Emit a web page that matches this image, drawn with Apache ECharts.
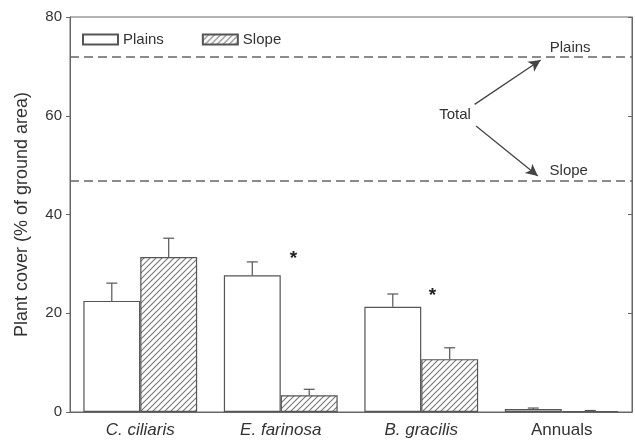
<!DOCTYPE html>
<html><head><meta charset="utf-8">
<script src="https://cdn.jsdelivr.net/npm/echarts@6/dist/echarts.min.js"></script>
<style>html,body{margin:0;padding:0;background:#fff}#c{width:635px;height:443px}</style>
</head><body><div id="c"></div>
<script>
const categories = ['C. ciliaris', 'E. farinosa', 'B. gracilis', 'Annuals'];
const italicCats = [true, true, true, false];
const plainsVals = [22.5, 27.7, 21.3, 0.6];
const plainsErr = [26.1, 30.4, 23.9, 0.8];
const slopeVals = [31.4, 3.4, 10.7, 0.2];
const slopeErr = [35.2, 4.6, 13.0, 0.3];
const totalPlains = 71.9;
const totalSlope = 46.8;
const yTicks = [0, 20, 40, 60, 80];
const stars = [[1.59, 31.8], [2.58, 24.3]];
const annoTexts = [['Total', 2.74, 60.1], ['Plains', 3.56, 73.8], ['Slope', 3.55, 48.8]];
const arrows = [[[2.88, 62.3], [3.35, 71.3]], [[2.89, 57.9], [3.33, 47.8]]];

function hatch() {
  const s = 6, c = document.createElement('canvas');
  c.width = s; c.height = s;
  const g = c.getContext('2d');
  g.fillStyle = '#fff'; g.fillRect(0, 0, s, s);
  g.strokeStyle = '#777'; g.lineWidth = 1.1;
  g.beginPath();
  g.moveTo(0, s); g.lineTo(s, 0);
  g.moveTo(-1, 1); g.lineTo(1, -1);
  g.moveTo(s - 1, s + 1); g.lineTo(s + 1, s - 1);
  g.stroke();
  return c;
}
const pattern = { image: hatch(), repeat: 'repeat' };
const lineCol = '#555';
const txt = '#333';
const font = 'Liberation Sans, Arial, sans-serif';

const chart = echarts.init(document.getElementById('c'));
const gap = 0.19;
function errItem(offsetSign) {
  return function (params, api) {
    const idx = api.value(0);
    const base = api.coord([idx, api.value(1)]);
    const top = api.coord([idx, api.value(2)]);
    const bw = api.size([1, 0])[0] * (1 - gap) / 2;
    const x = base[0] + offsetSign * bw / 2;
    const cap = 5.5;
    return {
      type: 'group', children: [
        { type: 'line', shape: { x1: x, y1: base[1], x2: x, y2: top[1] }, style: { stroke: lineCol, lineWidth: 1.2 } },
        { type: 'line', shape: { x1: x - cap, y1: top[1], x2: x + cap, y2: top[1] }, style: { stroke: lineCol, lineWidth: 1.2 } }
      ]
    };
  };
}

chart.setOption({
  animation: false,
  grid: { left: 70, right: 3, top: 17, bottom: 31, show: true, borderColor: '#666', borderWidth: 1 },
  legend: {
    left: 77, top: 27, itemWidth: 35, itemHeight: 10, itemGap: 38,
    textStyle: { fontFamily: font, fontSize: 15, color: txt },
    data: [{ name: 'Plains', icon: 'rect' }, { name: 'Slope', icon: 'rect' }]
  },
  xAxis: [{
    type: 'category', data: categories,
    axisLine: { lineStyle: { color: '#666' } }, axisTick: { show: false },
    axisLabel: {
      margin: 10, fontFamily: font, fontSize: 17, color: txt,
      formatter: function (v, i) { return italicCats[i] ? '{it|' + v + '}' : v; },
      rich: { it: { fontStyle: 'italic', fontFamily: font, fontSize: 17, color: txt } }
    }
  }, {
    type: 'value', min: 0, max: 4, show: false
  }],
  yAxis: [{
    type: 'value', min: 0, max: 80, interval: 20,
    name: 'Plant cover (% of ground area)', nameLocation: 'middle', nameGap: 39,
    nameTextStyle: { fontFamily: font, fontSize: 18, color: txt },
    axisLine: { show: true, lineStyle: { color: '#666' } },
    axisTick: { show: true, length: 4, lineStyle: { color: '#666' } },
    splitLine: { show: false },
    axisLabel: { fontFamily: font, fontSize: 15, color: txt, margin: 8,
      formatter: function (v) { return yTicks.indexOf(v) >= 0 ? String(v) : ''; } }
  }, {
    type: 'value', min: 0, max: 80, interval: 20, position: 'right',
    axisLine: { show: true, lineStyle: { color: '#666' } },
    axisTick: { show: true, inside: true, length: 4, lineStyle: { color: '#666' } },
    axisLabel: { show: false }, splitLine: { show: false }
  }],
  series: [
    {
      name: 'Plains', type: 'bar', data: plainsVals, barGap: '0%', barCategoryGap: (gap * 100) + '%',
      itemStyle: { color: '#fff', borderColor: lineCol, borderWidth: 1.2 },
      markLine: {
        silent: true, symbol: 'none', label: { show: false },
        lineStyle: { color: '#666', type: [9, 5], width: 1.5 },
        data: [{ yAxis: totalPlains }, { yAxis: totalSlope }]
      }
    },
    {
      name: 'Slope', type: 'bar', data: slopeVals,
      itemStyle: { color: pattern, borderColor: lineCol, borderWidth: 1.2 }
    },
    {
      type: 'custom', renderItem: errItem(-1), z: 3,
      data: categories.map((c, i) => [i, plainsVals[i], plainsErr[i]])
    },
    {
      type: 'custom', renderItem: errItem(1), z: 3,
      data: categories.map((c, i) => [i, slopeVals[i], slopeErr[i]])
    },
    {
      type: 'scatter', xAxisIndex: 1, symbolSize: 0, silent: true,
      itemStyle: { opacity: 1, color: '#222' },
      data: stars.map(s => ({ value: s, name: '*' })),
      label: { show: true, position: 'inside', formatter: '*', fontFamily: font, fontSize: 19, fontWeight: 'bold', color: '#222', offset: [0, 4] }
    },
    {
      type: 'scatter', xAxisIndex: 1, symbolSize: 0, silent: true,
      itemStyle: { opacity: 1, color: '#333' },
      data: annoTexts.map(a => ({ value: [a[1], a[2]], name: a[0] })),
      label: { show: true, position: 'inside', formatter: '{b}', fontFamily: font, fontSize: 15, color: txt },
      markLine: {
        silent: true, symbol: ['none', 'arrow'], symbolSize: [9, 12], label: { show: false },
        lineStyle: { color: '#444', type: 'solid', width: 1.3 },
        data: arrows.map(a => [{ coord: a[0] }, { coord: a[1] }])
      }
    }
  ]
});
</script></body></html>
